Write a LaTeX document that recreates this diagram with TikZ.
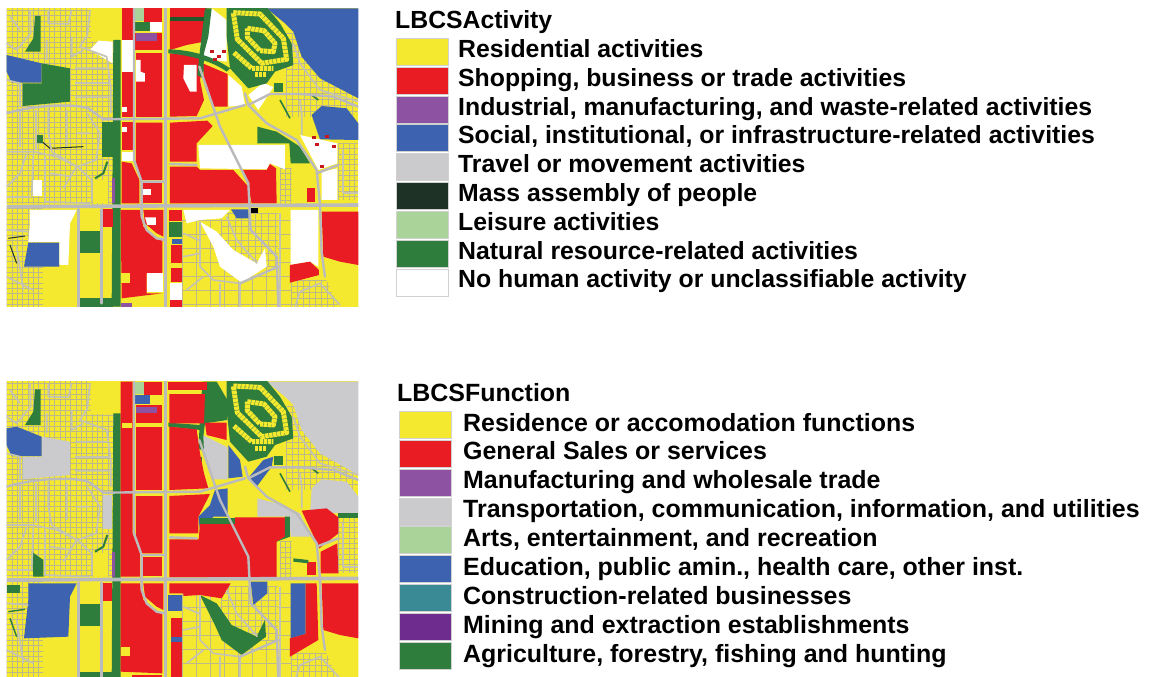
\documentclass[tikz,border=0pt]{standalone}
\usepackage{fontspec}
\setmainfont{Liberation Sans}
\definecolor{cy}{HTML}{F5E92F}
\definecolor{cr}{HTML}{E91C24}
\definecolor{cp}{HTML}{8E52A3}
\definecolor{cb}{HTML}{3D63B0}
\definecolor{cg}{HTML}{CBCBCD}
\definecolor{cd}{HTML}{1E3226}
\definecolor{cl}{HTML}{AAD39A}
\definecolor{cn}{HTML}{2F7D3C}
\definecolor{ct}{HTML}{3A8A96}
\definecolor{cm}{HTML}{6E2C8E}
\definecolor{cf}{HTML}{BDB98A}
\tikzset{
  swatch/.style={draw=black!18,line width=.5pt,minimum width=52pt,minimum height=27pt,inner sep=0pt,anchor=north west},
  lab/.style={font=\bfseries\fontsize{24.8}{25}\selectfont,anchor=base west,inner sep=0pt,text=black},
  labb/.style={font=\bfseries\fontsize{24.95}{25}\selectfont,anchor=base west,inner sep=0pt,text=black},
  parcel/.style={draw=cf,line width=.6pt},
  road/.style={draw=cg!92!black,line width=2.4pt,line join=round,line cap=round},
  majorroad/.style={draw=cg!92!black,line width=3.6pt,line join=round},
  street/.style={draw=cf!40!cg,line width=1.7pt,line join=round},
  loopy/.style={draw=cy,line width=5pt,dash pattern=on 3.4pt off .6pt,line join=round},
  mapunit/.style={x=.33333pt,y=-.33333pt}
}
\newcommand{\parc}[5]{%
  \fill[cy] (#1,#2) rectangle (#3,#4);
  \pgfmathsetmacro{\nxa}{int(#1+#5)}\pgfmathsetmacro{\nya}{int(#2+#5)}%
  \foreach \xx in {#1,\nxa,...,#3}{\draw[parcel] (\xx,#2) -- (\xx,#4);}
  \foreach \yy in {#2,\nya,...,#4}{\draw[parcel] (#1,\yy) -- (#3,\yy);}
}
\newcommand{\basemap}{%
  \fill[cy] (20,15) rectangle (1075,930);
  \parc{20}{15}{340}{612}{16}
  \parc{860}{100}{1075}{350}{18}
  \parc{20}{625}{130}{930}{16}
  \parc{548}{660}{872}{930}{42}
  \parc{1015}{430}{1075}{600}{16}
  \parc{875}{840}{1075}{930}{18}
  \parc{840}{505}{925}{612}{16}
  \parc{665}{640}{835}{800}{20}
  \fill[cy] (272,15) rectangle (350,122);
  \fill[cy] (280,540) rectangle (325,610);
  \fill[cy] (130,800) rectangle (232,920);
  \fill[cy] (240,628) rectangle (305,920);
  \fill[cy] (305,680) rectangle (340,920);
  \fill[cy] (685,325) rectangle (770,435);
  \fill[cy] (875,490) -- (945,490) -- (955,610) -- (875,610) -- cycle;
  \fill[cy] (965,790) .. controls (1020,810) .. (1075,800) -- (1075,930) -- (1020,930) -- (975,830) -- cycle;
}
\newcommand{\northeast}{%
  \fill[cn] (680,15) -- (795,15) -- (840,70) -- (875,130) -- (880,195) -- (825,215) -- (800,250) -- (745,265) -- (690,205) -- (680,110) -- cycle;
  \draw[loopy] (700,38) -- (780,42) -- (850,115) -- (860,178) -- (785,190) -- (712,118) -- cycle;
  \draw[loopy] (742,85) -- (792,92) -- (825,130) -- (820,155) -- (780,152) -- (742,112) -- cycle;
  \draw[loopy] (702,158) -- (755,205) -- (820,205);
  \draw[loopy] (765,225) -- (800,225);
}
\newcommand{\roads}{%
  \draw[street] (270,30) -- (262,105) -- (240,140) -- (320,170) -- (332,260) -- (332,340);
  \draw[street] (90,30) -- (92,100) -- (50,150) -- (20,130);
  \draw[street] (145,30) -- (145,70) -- (205,72) -- (215,30);
  \draw[street] (140,120) -- (140,180) (215,110) -- (215,170) -- (250,150);
  \draw[street] (145,325) -- (145,400) -- (155,455) -- (230,500) -- (190,565);
  \draw[street] (262,340) -- (300,400) -- (288,480) -- (232,500);
  \draw[street] (20,455) -- (100,455) -- (170,470) -- (232,500) -- (275,540) -- (275,605);
  \draw[street] (60,330) -- (60,440) (108,330) -- (108,450);
  \draw[street] (135,470) -- (135,605) -- (270,610);
  \draw[street] (80,460) -- (60,520) -- (20,560);
  \draw[street] (100,460) -- (95,590) (200,330) -- (200,440);
  \draw[street] (20,590) -- (90,590) (225,250) -- (330,250);
  \draw[street] (20,240) -- (60,250) -- (60,320) (225,205) -- (320,205) (225,292) -- (330,292);
  \draw[street] (150,520) -- (215,530) (230,400) -- (270,400) (30,50) -- (60,90);
  \draw[street] (900,300) -- (905,340) -- (905,405) (960,270) -- (1075,305);
  \draw[street] (20,690) -- (85,695) (550,700) -- (600,722) (550,770) -- (600,760) (610,830) -- (560,870) (660,850) -- (660,920);
  \draw[street] (600,665) -- (600,800) -- (640,840) -- (720,850) (720,850) -- (720,920);
  \draw[street] (680,650) -- (710,720) -- (772,790);
  \draw[street] (885,920) -- (900,875) -- (960,850) -- (1020,915);
  \draw[street] (880,130) -- (900,190) -- (960,270);
  \draw[street] (840,640) -- (840,920);
  \draw[street] (1030,450) -- (1030,580) -- (1075,580);
  \draw[street] (50,740) -- (70,870) (20,830) -- (100,870);
  \draw[road] (235,628) -- (235,920);
  \draw[road] (305,628) -- (305,910);
  \draw[road] (20,340) .. controls (100,315) and (220,310) .. (265,325) -- (310,358) -- (600,355) -- (735,315);
  \draw[road] (402,25) -- (402,480) -- (425,545) -- (425,650) -- (440,690) -- (470,715) -- (495,720);
  \draw[road] (598,200) -- (660,380) -- (745,550) -- (752,690) -- (830,770) -- (835,920);
  \draw[road] (735,280) -- (745,315) -- (800,370) -- (890,420) -- (950,510) -- (960,615) -- (965,760) -- (975,830);
  \draw[road] (745,315) -- (810,282) -- (900,282) -- (1000,290) -- (1075,320);
  \draw[road] (510,492) -- (590,495) (425,545) -- (490,545) (950,520) -- (1015,495);
  \draw[road] (720,850) -- (835,800);
  \draw[road] (497,15) -- (497,350);
  \draw[majorroad] (497,350) -- (497,930);
  \draw[majorroad] (20,620) -- (1075,615);
}
\begin{document}
\begin{tikzpicture}[x=1pt,y=-1pt]
\useasboundingbox (0,0) rectangle (1152,677);
\fill[white] (0,0) rectangle (1152,677);
% ---------- upper map ----------
\begin{scope}[mapunit]
\clip (20,25) rectangle (1075,920);
\basemap
\foreach \c/\p in {
 cb/{(800,25) -- (1075,25) -- (1075,295) -- (960,235) -- (905,170) -- (880,95) -- (855,70) -- cycle},
 cb/{(20,165) -- (125,190) -- (125,248) -- (35,248) -- (20,215) -- cycle},
 cb/{(935,345) -- (965,318) -- (1040,325) -- (1075,370) -- (1075,420) -- (960,418) -- cycle},
 cb/{(85,728) -- (178,728) -- (178,800) -- (72,800) -- cycle},
 cb/{(693,628) -- (745,628) -- (745,655) -- (710,655) -- cycle},
 cn/{(340,120) -- (362,120) -- (362,920) -- (335,920) -- cycle},
 cn/{(307,365) -- (340,365) -- (340,470) -- (307,470) -- cycle},
 cn/{(125,190) -- (210,205) -- (210,305) -- (68,318) -- (68,250) -- (125,250) -- cycle},
 cn/{(105,48) -- (122,48) -- (122,155) -- (75,155) -- (100,115) -- cycle},
 cn/{(405,65) -- (450,65) -- (450,92) -- (405,92) -- cycle},
 cn/{(772,380) -- (830,395) -- (900,440) -- (930,490) -- (872,490) -- (868,430) -- (772,430) -- cycle},
 cn/{(240,693) -- (303,693) -- (303,758) -- (240,758) -- cycle},
 cn/{(240,895) -- (340,895) -- (340,920) -- (240,920) -- cycle},
 cn/{(508,665) -- (547,665) -- (547,712) -- (508,712) -- cycle},
 cl/{(404,25) -- (432,25) -- (432,62) -- (404,62) -- cycle},
 white/{(296,122) -- (338,125) -- (338,190) -- (270,150) -- cycle},
 white/{(365,120) -- (398,120) -- (398,215) -- (365,215) -- cycle},
 white/{(365,455) -- (398,455) -- (398,482) -- (365,482) -- cycle},
 white/{(600,130) -- (680,150) -- (680,185) -- (612,175) -- cycle},
 white/{(635,25) -- (680,60) -- (680,150) -- (612,135) -- cycle},
 white/{(685,225) -- (725,260) -- (735,315) -- (685,320) -- cycle},
 white/{(745,285) -- (790,248) -- (820,262) -- (775,330) -- cycle},
 white/{(595,435) -- (855,435) -- (855,508) -- (810,490) -- (800,508) -- (600,505) -- cycle},
 white/{(900,405) -- (1012,430) -- (1012,490) -- (955,510) -- cycle},
 white/{(965,515) -- (1012,505) -- (1012,600) -- (965,600) -- cycle},
 white/{(90,630) -- (230,630) -- (210,670) -- (205,795) -- (178,795) -- (178,726) -- (85,726) -- (90,670) -- cycle},
 white/{(550,630) -- (690,630) -- (665,655) -- (600,660) -- (560,670) -- cycle},
 white/{(600,665) -- (650,695) -- (700,750) -- (770,790) -- (795,745) -- (800,800) -- (725,848) -- (660,800) -- (640,740) -- cycle},
 white/{(872,630) -- (955,630) -- (955,800) -- (930,785) -- (872,795) -- cycle},
 white/{(100,540) -- (127,540) -- (127,588) -- (100,588) -- cycle},
 white/{(510,850) -- (545,850) -- (545,900) -- (510,900) -- cycle},
 white/{(450,65) -- (485,65) -- (485,95) -- (450,95) -- cycle},
 cr/{(365,25) -- (398,25) -- (398,120) -- (365,120) -- cycle},
 cr/{(432,25) -- (487,25) -- (487,65) -- (432,65) -- cycle},
 cr/{(405,100) -- (487,100) -- (487,150) -- (405,150) -- cycle},
 cr/{(510,25) -- (620,25) -- (620,50) -- (510,50) -- cycle},
 cr/{(510,62) -- (612,62) -- (612,125) -- (560,135) -- (510,150) -- cycle},
 cr/{(365,215) -- (398,215) -- (398,350) -- (365,350) -- cycle},
 cr/{(408,160) -- (487,160) -- (487,350) -- (408,350) -- cycle},
 cr/{(510,160) -- (590,168) -- (610,195) -- (600,240) -- (612,300) -- (590,348) -- (510,350) -- cycle},
 cr/{(608,190) -- (683,222) -- (683,320) -- (640,320) -- (615,260) -- cycle},
 cr/{(365,365) -- (398,365) -- (398,450) -- (365,450) -- cycle},
 cr/{(408,368) -- (487,368) -- (487,540) -- (425,540) -- (408,490) -- cycle},
 cr/{(365,485) -- (395,490) -- (418,540) -- (418,610) -- (365,610) -- cycle},
 cr/{(430,550) -- (487,550) -- (487,608) -- (430,608) -- cycle},
 cr/{(510,368) -- (622,362) -- (638,378) -- (590,430) -- (590,485) -- (510,485) -- cycle},
 cr/{(510,500) -- (590,500) -- (600,510) -- (700,510) -- (745,560) -- (752,610) -- (510,610) -- cycle},
 cr/{(725,510) -- (800,510) -- (810,492) -- (828,505) -- (830,610) -- (755,610) -- (745,560) -- cycle},
 cr/{(308,628) -- (338,628) -- (338,682) -- (308,682) -- cycle},
 cr/{(362,630) -- (420,630) -- (430,680) -- (470,715) -- (487,718) -- (487,820) -- (440,820) -- (440,880) -- (487,880) -- (365,895) -- cycle},
 cr/{(430,630) -- (490,630) -- (490,710) -- (470,700) -- (435,670) -- cycle},
 cr/{(508,630) -- (547,630) -- (547,662) -- (508,662) -- cycle},
 cr/{(512,735) -- (545,735) -- (545,790) -- (512,790) -- cycle},
 cr/{(512,805) -- (545,805) -- (545,845) -- (512,845) -- cycle},
 cr/{(510,900) -- (545,900) -- (545,920) -- (510,920) -- cycle},
 cr/{(965,635) -- (1075,635) -- (1075,795) -- (1020,785) -- (970,770) -- cycle},
 cr/{(870,795) -- (930,785) -- (957,810) -- (957,825) -- (870,848) -- cycle},
 cr/{(920,565) -- (945,565) -- (945,605) -- (920,605) -- cycle},
 cp/{(407,100) -- (470,100) -- (470,122) -- (407,122) -- cycle},
 cp/{(335,535) -- (346,535) -- (346,610) -- (335,610) -- cycle},
 cp/{(362,908) -- (395,908) -- (395,920) -- (362,920) -- cycle},
 cb/{(515,718) -- (547,718) -- (547,733) -- (515,733) -- cycle},
 white/{(365,322) -- (380,322) -- (380,336) -- (365,336) -- cycle},
 white/{(365,382) -- (380,382) -- (380,396) -- (365,396) -- cycle},
 white/{(430,568) -- (452,568) -- (452,585) -- (430,585) -- cycle},
 white/{(442,820) -- (490,820) -- (490,875) -- (442,875) -- cycle},
 white/{(435,652) -- (468,652) -- (468,675) -- (442,675) -- cycle},
 white/{(552,195) -- (590,195) -- (590,275) -- (570,275) -- (550,235) -- cycle},
 white/{(408,180) -- (422,180) -- (422,215) -- (435,220) -- (435,245) -- (408,245) -- cycle},
 cy/{(363,820) -- (390,820) -- (390,848) -- (363,848) -- cycle},
 cy/{(905,555) -- (920,555) -- (920,565) -- (905,565) -- cycle}
}{\fill[\c] \p;}
\northeast
\fill[cn] (615,25) -- (635,25) -- (625,110) -- (612,160) -- (610,235) -- (592,225) -- (600,150) -- cycle;
\fill[cn] (505,148) .. controls (580,150) and (640,170) .. (690,205) -- (680,215) .. controls (640,185) and (570,165) .. (505,160) -- cycle;
\fill[cn!70!black] (510,50) rectangle (612,62);
\fill[cn] (822,248) rectangle (850,275);
\draw[cn,line width=1.6pt] (935,285) -- (955,300) (840,300) -- (870,355);
\draw[cd,line width=1pt] (120,420) -- (150,445) -- (250,440);
\draw[cn,line width=2pt] (285,535) -- (310,520) -- (322,485);
\draw[cd,line width=1pt] (25,715) -- (75,708) (30,735) -- (50,790);
\fill[cn] (105,405) rectangle (130,430);
\roads
\fill[black] (752,625) rectangle (775,640);
\foreach \x/\y in {630/150,650/165,665/150,640/175,935/408,975/405,995/435,945/430,960/495}
  {\fill[cr!85!black] (\x,\y) rectangle +(12,8);}
\end{scope}
% ---------- lower map ----------
\begin{scope}[mapunit,yshift=-373.333pt]
\clip (20,25) rectangle (1075,930);
\basemap
\foreach \c/\p in {
 cg/{(800,25) -- (1075,25) -- (1075,305) -- (960,240) -- (905,170) -- (880,95) -- (855,70) -- cycle},
 cg/{(125,190) -- (210,205) -- (210,305) -- (68,318) -- (68,250) -- (125,250) -- cycle},
 cg/{(935,345) -- (965,318) -- (1040,325) -- (1075,370) -- (1075,420) -- (930,418) -- cycle},
 cg/{(308,365) -- (335,365) -- (335,468) -- (308,468) -- cycle},
 cg/{(608,185) -- (683,222) -- (683,318) -- (640,318) -- (612,250) -- cycle},
 cg/{(772,375) -- (830,390) -- (900,420) -- (930,490) -- (872,490) -- (868,430) -- (772,430) -- cycle},
 cb/{(20,165) -- (50,160) -- (125,190) -- (125,248) -- (35,248) -- (20,215) -- cycle},
 cb/{(685,215) -- (720,260) -- (728,310) -- (685,315) -- cycle},
 cb/{(748,310) -- (790,260) -- (820,250) -- (815,280) -- (770,340) -- cycle},
 cb/{(645,350) -- (683,345) -- (683,430) -- (640,430) -- (600,470) -- (595,430) -- (630,395) -- cycle},
 cb/{(752,625) -- (802,625) -- (802,660) -- (760,695) -- cycle},
 cb/{(505,665) -- (547,665) -- (547,712) -- (505,712) -- cycle},
 cb/{(872,630) -- (917,630) -- (917,782) -- (872,795) -- cycle},
 cb/{(85,630) -- (230,630) -- (210,670) -- (205,790) -- (72,795) -- (85,680) -- cycle},
 cb/{(405,65) -- (450,65) -- (450,92) -- (405,92) -- cycle},
 cb/{(512,790) -- (545,790) -- (545,805) -- (512,805) -- cycle},
 cl/{(404,25) -- (432,25) -- (432,62) -- (404,62) -- cycle},
 cn/{(340,120) -- (362,120) -- (362,930) -- (335,930) -- cycle},
 cn/{(105,48) -- (122,48) -- (122,155) -- (75,155) -- (100,115) -- cycle},
 cn/{(240,693) -- (303,693) -- (303,758) -- (240,758) -- cycle},
 cn/{(240,895) -- (340,895) -- (340,930) -- (240,930) -- cycle},
 cn/{(608,25) -- (650,25) -- (685,85) -- (682,140) -- (615,150) -- (610,190) -- (612,235) -- (596,225) -- (600,120) -- cycle},
 cn/{(505,148) -- (600,155) -- (600,170) -- (505,160) -- cycle},
 cn/{(570,250) -- (605,250) -- (605,280) -- (570,280) -- cycle},
 cn/{(95,535) -- (130,560) -- (130,610) -- (100,610) -- cycle},
 cn/{(1015,420) -- (1075,420) -- (1075,435) -- (1015,435) -- cycle},
 cn/{(600,665) -- (650,690) -- (695,755) -- (770,790) -- (795,740) -- (798,790) -- (725,845) -- (665,800) -- (640,745) -- cycle},
 cn/{(20,635) -- (60,635) -- (60,660) -- (20,660) -- cycle},
 cr/{(362,25) -- (398,25) -- (398,480) -- (420,540) -- (420,610) -- (362,610) -- cycle},
 cr/{(432,25) -- (487,25) -- (487,65) -- (432,65) -- cycle},
 cr/{(408,95) -- (487,95) -- (487,150) -- (408,150) -- cycle},
 cr/{(408,160) -- (487,160) -- (487,350) -- (408,350) -- cycle},
 cr/{(408,368) -- (487,368) -- (487,540) -- (425,540) -- (408,490) -- cycle},
 cr/{(430,550) -- (487,550) -- (487,608) -- (430,608) -- cycle},
 cr/{(505,25) -- (620,25) -- (620,50) -- (505,50) -- cycle},
 cr/{(508,62) -- (615,62) -- (612,150) -- (508,150) -- cycle},
 cr/{(508,160) -- (590,168) -- (600,240) -- (612,300) -- (625,345) -- (508,350) -- cycle},
 cr/{(615,148) -- (680,148) -- (680,200) -- (620,185) -- cycle},
 cr/{(508,368) -- (630,362) -- (595,430) -- (595,480) -- (508,480) -- cycle},
 cr/{(508,498) -- (596,498) -- (600,452) -- (705,452) -- (705,432) -- (855,432) -- (855,490) -- (830,505) -- (830,612) -- (508,612) -- cycle},
 cn/{(600,435) -- (705,435) -- (705,452) -- (600,452) -- cycle},
 cn/{(855,430) -- (870,430) -- (870,490) -- (830,505) -- (855,490) -- cycle},
 cr/{(905,412) -- (980,405) -- (1015,432) -- (1015,480) -- (958,525) -- cycle},
 cr/{(962,535) -- (1012,510) -- (1015,600) -- (962,600) -- cycle},
 cr/{(965,630) -- (1075,630) -- (1075,795) -- (1020,785) -- (970,770) -- cycle},
 cr/{(917,630) -- (950,630) -- (955,800) -- (870,850) -- (870,795) -- (917,782) -- cycle},
 cr/{(308,628) -- (336,628) -- (336,682) -- (308,682) -- cycle},
 cr/{(362,630) -- (420,630) -- (430,680) -- (470,715) -- (487,718) -- (487,900) -- (362,895) -- cycle},
 cr/{(430,630) -- (490,630) -- (490,710) -- (470,700) -- (435,670) -- cycle},
 cr/{(508,630) -- (692,630) -- (665,675) -- (600,665) -- (550,668) -- (550,660) -- (508,660) -- cycle},
 cr/{(512,735) -- (547,735) -- (547,790) -- (512,790) -- cycle},
 cr/{(512,805) -- (547,805) -- (547,920) -- (512,920) -- cycle},
 cr/{(920,565) -- (948,565) -- (948,605) -- (920,605) -- cycle},
 cr/{(395,905) -- (487,905) -- (487,930) -- (395,930) -- cycle},
 cp/{(407,100) -- (470,100) -- (470,120) -- (407,120) -- cycle},
 cp/{(335,535) -- (346,535) -- (346,610) -- (335,610) -- cycle},
 cy/{(365,150) -- (395,150) -- (395,165) -- (365,165) -- cycle},
 cy/{(363,820) -- (390,820) -- (390,848) -- (363,848) -- cycle},
 cn/{(880,555) -- (925,560) -- (925,570) -- (880,565) -- cycle}
}{\fill[\c] \p;}
\northeast
\fill[cn] (822,248) rectangle (850,275);
\draw[cn,line width=1.6pt] (935,285) -- (955,300) (840,300) -- (870,355);
\draw[cn,line width=2pt] (285,535) -- (310,520) -- (322,485);
\draw[cn,line width=1.4pt] (25,715) -- (75,708) (30,735) -- (50,790);
\roads
\end{scope}
% ---------- legend 1 ----------
\node[lab] (t1) at (395,29) {LBCSActivity};
\foreach \n/\c/\t [count=\i from 0] in {
 a1/cy/{Residential activities},
 a2/cr/{Shopping, business or trade activities},
 a3/cp/{Industrial, manufacturing, and waste-related activities},
 a4/cb/{Social, institutional, or infrastructure-related activities},
 a5/cg/{Travel or movement activities},
 a6/cd/{Mass assembly of people},
 a7/cl/{Leisure activities},
 a8/cn/{Natural resource-related activities},
 a9/white/{No human activity or unclassifiable activity}}{
  \node[swatch,fill=\c] (s\n) at (396,38+\i*28.83) {};
  \node[lab] (l\n) at (458,57.5+\i*28.8) {\t};
}
% ---------- legend 2 ----------
\node[labb] (t2) at (397,401) {LBCSFunction};
\foreach \n/\c/\t [count=\i from 0] in {
 b1/cy/{Residence or accomodation functions},
 b2/cr/{General Sales or services},
 b3/cp/{Manufacturing and wholesale trade},
 b4/cg/{Transportation, communication, information, and utilities},
 b5/cl/{Arts, entertainment, and recreation},
 b6/cb/{Education, public amin., health care, other inst.},
 b7/ct/{Construction-related businesses},
 b8/cm/{Mining and extraction establishments},
 b9/cn/{Agriculture, forestry, fishing and hunting}}{
  \node[swatch,fill=\c] (s\n) at (399,411+\i*28.85) {};
  \node[labb] (l\n) at (463,431+\i*28.88) {\t};
}
\end{tikzpicture}
\end{document}
